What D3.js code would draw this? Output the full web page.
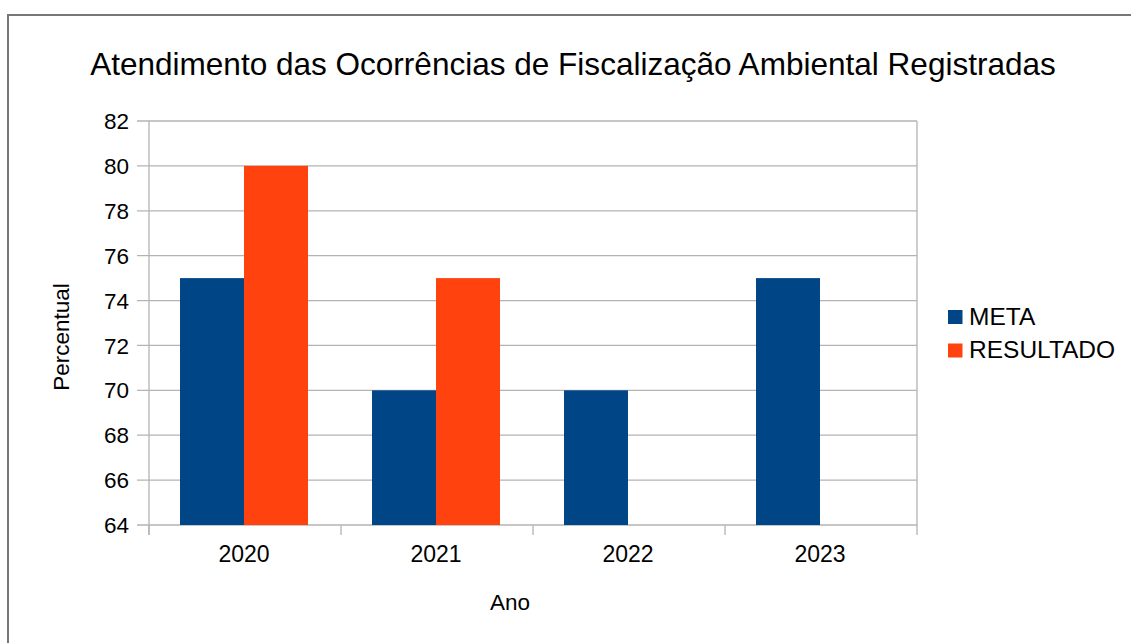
<!DOCTYPE html>
<html><head><meta charset="utf-8">
<script src="https://cdn.jsdelivr.net/npm/d3@7"></script>
<style>body{margin:0;background:#fff}svg{display:block;font-family:"Liberation Sans",Arial,sans-serif}</style>
</head><body>
<svg id="c" width="1131" height="643"></svg>
<script>
const categories = ["2020","2021","2022","2023"];
const seriesNames = ["META","RESULTADO"];
const meta = [75,70,70,75];
const resultado = [80,75,null,null];
const yTicks = [64,66,68,70,72,74,76,78,80,82];
const colors = ["#004586","#ff420e"];
const title = "Atendimento das Ocorrências de Fiscalização Ambiental Registradas";

const svg = d3.select("#c");
svg.append("rect").attr("x",8).attr("y",15).attr("width",1140).attr("height",650)
  .attr("fill","#fff").attr("stroke","#777").attr("stroke-width",2);

const L=149,R=917,T=121,B=525;
const x = d3.scaleBand().domain(categories).range([L,R]).padding(0);
const xs = d3.scaleBand().domain(seriesNames).range([0,x.bandwidth()]).paddingInner(0).paddingOuter(0.5);
const y = d3.scaleLinear().domain([64,82]).range([B,T]);

// grid
svg.append("g").selectAll("line").data(yTicks).join("line")
  .attr("x1",L-12).attr("x2",R).attr("y1",d=>y(d)).attr("y2",d=>y(d))
  .attr("stroke","#b3b3b3").attr("stroke-width",1.3);
svg.append("line").attr("x1",L).attr("x2",L).attr("y1",T).attr("y2",B+10).attr("stroke","#b3b3b3").attr("stroke-width",1.3);
svg.append("line").attr("x1",R).attr("x2",R).attr("y1",T).attr("y2",B).attr("stroke","#b3b3b3").attr("stroke-width",1.3);
const bounds = categories.map(c=>x(c)).concat([R]);
svg.append("g").selectAll("line").data(bounds).join("line")
  .attr("x1",d=>d).attr("x2",d=>d).attr("y1",B).attr("y2",B+10)
  .attr("stroke","#b3b3b3").attr("stroke-width",1.3);

// bars
const data = [meta,resultado];
data.forEach((vals,si)=>{
  svg.append("g").selectAll("rect")
    .data(categories.map((c,i)=>({c,v:vals[i]})).filter(d=>d.v!=null))
    .join("rect")
    .attr("x",d=>x(d.c)+xs(seriesNames[si])-1)
    .attr("width",xs.bandwidth())
    .attr("y",d=>y(d.v)).attr("height",d=>B-y(d.v))
    .attr("fill",colors[si]);
});

// y labels
svg.append("g").selectAll("text").data(yTicks).join("text")
  .attr("x",129).attr("y",d=>y(d)).attr("dy","0.36em").attr("text-anchor","end")
  .attr("font-size",22.5).attr("fill","#000").text(d=>d);
// x labels
svg.append("g").selectAll("text").data(categories).join("text")
  .attr("x",d=>x(d)+x.bandwidth()/2-1).attr("y",562).attr("text-anchor","middle")
  .attr("font-size",23).attr("fill","#000").text(d=>d);

// axis titles
svg.append("text").attr("x",510).attr("y",610).attr("text-anchor","middle")
  .attr("font-size",22.5).attr("fill","#000").text("Ano");
svg.append("text").attr("transform","translate(69,337) rotate(-90)").attr("text-anchor","middle")
  .attr("font-size",22.5).attr("fill","#000").text("Percentual");

// title
const t = svg.append("text").attr("x",573).attr("y",75).attr("text-anchor","middle")
  .attr("font-size",100).attr("fill","#000").text(title);
const w = t.node().getComputedTextLength();
t.attr("font-size",100*966/w);

// legend
const lg = svg.append("g").selectAll("g").data(seriesNames).join("g")
  .attr("transform",(d,i)=>`translate(948,${310+i*33.5})`);
lg.append("rect").attr("width",14.5).attr("height",14).attr("fill",(d,i)=>colors[i]);
lg.append("text").attr("x",21).attr("y",14.5).attr("font-size",24.5).attr("fill","#000").text(d=>d);
</script>
</body></html>
